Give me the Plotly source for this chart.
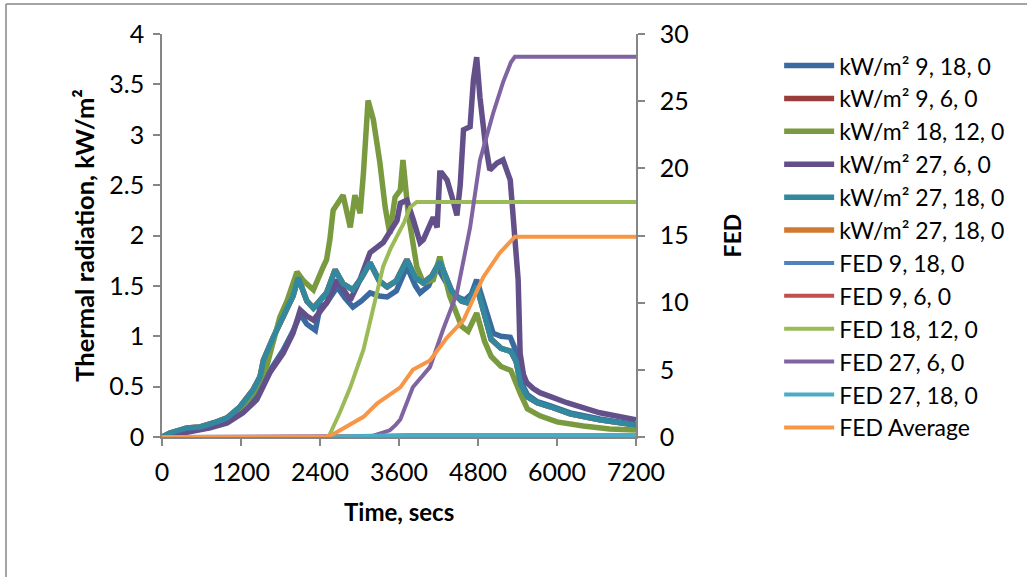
import plotly.graph_objects as go

# ---------------- data ----------------
t_kw_9_18 = [0,120,380,730,990,1230,1440,1640,1840,1990,2100,2200,2330,2400,2500,2660,2780,2900,3030,3160,3300,3420,3560,3720,3850,3920,4050,4180,4300,4450,4600,4700,4780,4900,5030,5150,5290,5380,5450,5550,5700,5900,6200,6650,7200]
v_kw_9_18 = [0,0.03,0.06,0.10,0.15,0.25,0.40,0.66,0.86,1.05,1.22,1.12,1.06,1.29,1.33,1.49,1.38,1.29,1.35,1.43,1.40,1.39,1.45,1.69,1.50,1.43,1.50,1.69,1.55,1.40,1.36,1.42,1.56,1.30,1.03,1.00,0.99,0.85,0.55,0.42,0.35,0.31,0.24,0.18,0.12]

t_kw_27_18 = [0,120,380,580,830,990,1185,1385,1490,1540,1690,1840,1990,2070,2200,2300,2500,2630,2750,2900,3030,3160,3300,3420,3560,3720,3850,3970,4100,4220,4300,4400,4550,4650,4780,4900,5000,5150,5300,5380,5450,5550,5700,5900,6200,6650,7200]
v_kw_27_18 = [0,0.04,0.09,0.10,0.15,0.19,0.30,0.47,0.60,0.76,0.99,1.19,1.40,1.58,1.35,1.28,1.43,1.66,1.52,1.46,1.58,1.73,1.55,1.49,1.55,1.76,1.58,1.53,1.60,1.74,1.62,1.45,1.35,1.33,1.50,1.20,0.97,0.88,0.85,0.75,0.52,0.40,0.34,0.30,0.23,0.17,0.12]

# kW/m² 9, 6, 0 and the second kW/m² 27, 18, 0 are not visible: they lie under the teal line
t_kw_9_6 = t_kw_27_18
v_kw_9_6 = v_kw_27_18
t_kw_27_18b = t_kw_27_18
v_kw_27_18b = v_kw_27_18

t_kw_18_12 = [0,200,700,1000,1200,1400,1590,1790,1900,2050,2150,2300,2450,2500,2550,2600,2750,2860,2930,3010,3060,3130,3210,3310,3390,3460,3540,3620,3660,3740,3870,3970,4120,4220,4370,4550,4650,4780,4900,5000,5150,5300,5450,5550,5740,6000,6400,6800,7200]
v_kw_18_12 = [0,0.04,0.09,0.17,0.28,0.45,0.70,1.19,1.35,1.64,1.55,1.46,1.69,1.76,1.96,2.25,2.40,2.08,2.40,2.22,2.62,3.34,3.15,2.72,2.28,2.02,2.38,2.45,2.75,2.22,1.69,1.53,1.56,1.79,1.40,1.10,1.05,1.23,0.95,0.80,0.70,0.66,0.42,0.28,0.21,0.15,0.11,0.08,0.07]

t_kw_27_6 = [0,380,730,990,1230,1440,1640,1840,1990,2100,2200,2300,2500,2660,2860,3000,3160,3360,3470,3570,3620,3720,3820,3920,3970,4120,4180,4220,4250,4330,4420,4480,4530,4580,4680,4730,4780,4830,4910,4980,5090,5180,5290,5360,5410,5440,5490,5540,5640,5740,6150,6650,7200]
v_kw_27_6 = [0,0.05,0.09,0.14,0.24,0.37,0.64,0.83,1.03,1.26,1.20,1.16,1.33,1.56,1.36,1.55,1.83,1.93,2.05,2.15,2.32,2.35,2.15,1.93,1.96,2.18,2.08,2.62,2.62,2.55,2.35,2.20,2.50,3.05,3.08,3.54,3.77,3.37,2.92,2.65,2.72,2.75,2.55,2.05,1.56,0.83,0.62,0.54,0.48,0.44,0.34,0.24,0.17]

t_fed_9_18 = [0,3000,4000,7200]
v_fed_9_18 = [0,0.03,0.08,0.10]
t_fed_9_6 = [0,3000,4000,7200]
v_fed_9_6 = [0,0.03,0.08,0.10]

t_fed_18_12 = [0,2530,2700,2860,3060,3210,3360,3470,3570,3680,3770,3870,4000,7200]
v_fed_18_12 = [0,0,1.8,3.7,6.5,9.7,12.7,14.0,14.9,16.0,17.1,17.5,17.5,17.5]

t_fed_27_6 = [0,3150,3270,3460,3550,3620,3810,4070,4270,4480,4680,4830,5030,5180,5300,5360,7200]
v_fed_27_6 = [0,0,0.2,0.5,0.9,1.3,3.7,5.2,8.0,10.7,15.6,20.6,24.1,26.4,27.9,28.3,28.3]

t_fed_27_18 = [0,2500,3000,3700,7200]
v_fed_27_18 = [0,0,0.08,0.15,0.15]

t_fed_avg = [0,2500,2600,2860,3060,3270,3510,3620,3810,4070,4330,4580,4880,5130,5360,7200]
v_fed_avg = [0,0,0.2,0.9,1.5,2.5,3.3,3.7,5.0,5.7,7.4,8.7,11.9,13.7,14.9,14.9]

x_ticks = [0, 1200, 2400, 3600, 4800, 6000, 7200]

# ---------------- figure ----------------
FONT = "Lato"
AXIS_GREY = "#868686"

# (name, t, v, colour, axis, legend rank) listed in drawing order
series = [
    ("kW/m² 9, 6, 0",    t_kw_9_6,    v_kw_9_6,    "#993C3A", "y",  2),
    ("kW/m² 27, 18, 0",  t_kw_27_18b, v_kw_27_18b, "#D07A30", "y",  6),
    ("kW/m² 9, 18, 0",   t_kw_9_18,   v_kw_9_18,   "#3A6A9F", "y",  1),
    ("kW/m² 18, 12, 0",  t_kw_18_12,  v_kw_18_12,  "#7A9A40", "y",  3),
    ("kW/m² 27, 6, 0",   t_kw_27_6,   v_kw_27_6,   "#63508A", "y",  4),
    ("kW/m² 27, 18, 0",  t_kw_27_18,  v_kw_27_18,  "#31889F", "y",  5),
    ("FED 9, 18, 0",     t_fed_9_18,  v_fed_9_18,  "#4F81BD", "y2", 7),
    ("FED 9, 6, 0",      t_fed_9_6,   v_fed_9_6,   "#C0504D", "y2", 8),
    ("FED 18, 12, 0",    t_fed_18_12, v_fed_18_12, "#9BBB59", "y2", 9),
    ("FED 27, 6, 0",     t_fed_27_6,  v_fed_27_6,  "#8064A2", "y2", 10),
    ("FED 27, 18, 0",    t_fed_27_18, v_fed_27_18, "#4BACC6", "y2", 11),
    ("FED Average",      t_fed_avg,   v_fed_avg,   "#F79646", "y2", 12),
]

fig = go.Figure()
for name, t, v, col, ax, rank in series:
    fig.add_trace(go.Scatter(
        x=t, y=v, name=name, mode="lines", yaxis=ax, legendrank=rank,
        line=dict(color=col, width=5.5 if ax == "y" else 4, shape="linear"),
    ))

axis_common = dict(
    showgrid=False, zeroline=False, showline=True, linecolor=AXIS_GREY, linewidth=1.5,
    ticks="outside", ticklen=7, tickcolor=AXIS_GREY, tickwidth=1.5,
    tickfont=dict(family=FONT, size=25, color="#000000"),
)

fig.update_layout(
    width=1027, height=577,
    paper_bgcolor="white", plot_bgcolor="white",
    margin=dict(l=162, r=391, t=34, b=140, autoexpand=False),
    font=dict(family=FONT, color="#000000"),
    xaxis=dict(range=[0, 7200], tickvals=x_ticks, ticktext=[str(v) for v in x_ticks],
               ticklabelstandoff=5, **axis_common),
    yaxis=dict(range=[0, 4], dtick=0.5, tick0=0, ticklabelstandoff=4,
               title=dict(text="<b>Thermal radiation, kW/m²</b>", font=dict(family=FONT, size=25.5), standoff=7),
               **axis_common),
    yaxis2=dict(range=[0, 30], dtick=5, tick0=0, overlaying="y", side="right", ticklabelstandoff=10,
                title=dict(text="<b>FED</b>", font=dict(family=FONT, size=23), standoff=37),
                **axis_common),
    legend=dict(x=1.302, xanchor="left", y=0.975, yanchor="top",
                font=dict(family=FONT, size=23, color="#000000"),
                itemwidth=50, bgcolor="rgba(0,0,0,0)", traceorder="normal", maxheight=560),
    showlegend=True,
)

# x-axis title as a text annotation so it sits where the reference has it
fig.add_annotation(text="<b>Time, secs</b>", xref="paper", yref="paper",
                   x=0.5, y=(437 - 511) / 403, xanchor="center", yanchor="middle",
                   showarrow=False, font=dict(family=FONT, size=24, color="#000000"))

# outer chart border (only the left and top edges are inside the picture)
fig.add_shape(type="line", xref="paper", yref="paper",
              x0=(6 - 162) / 474, x1=(1040 - 162) / 474, y0=(437 - 4) / 403, y1=(437 - 4) / 403,
              line=dict(color=AXIS_GREY, width=1.5))
fig.add_shape(type="line", xref="paper", yref="paper",
              x0=(6 - 162) / 474, x1=(6 - 162) / 474, y0=(437 - 4) / 403, y1=(437 - 600) / 403,
              line=dict(color=AXIS_GREY, width=1.5))

fig.write_html("out.html", config={"displayModeBar": False},
               post_script="document.body.style.margin='0';")
